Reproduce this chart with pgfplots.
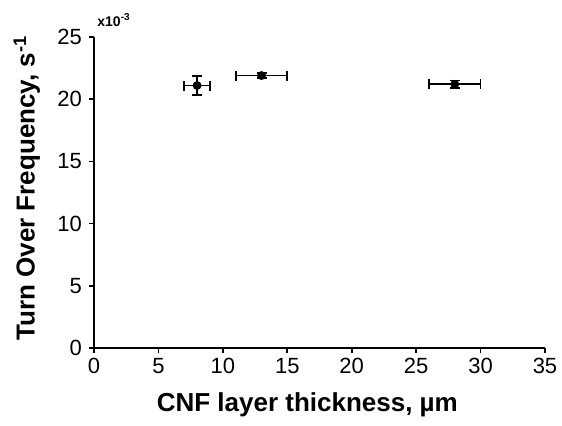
\documentclass[border=0pt]{standalone}
\usepackage{pgfplots}
\pgfplotsset{compat=1.18}
\usepackage{fontspec}
\setmainfont{Liberation Sans}
\begin{document}
\begin{tikzpicture}
\path[use as bounding box] (0,0) rectangle (281pt,213pt);
\begin{axis}[
    at={(47pt,39pt)}, anchor=south west,
    scale only axis,
    width=225.5pt, height=155.5pt,
    xmin=0, xmax=35, ymin=0, ymax=25,
    xtick={0,5,...,35}, ytick={0,5,...,25},
    axis x line=bottom, axis y line=left,
    axis line style={-, line width=0.8pt},
    tick align=outside, tick style={black, line width=0.8pt},
    major tick length=2.5pt,
    /pgf/number format/assume math mode=true,
    tick label style={font=\fontsize{11}{12}\selectfont},
    xticklabel style={yshift=1pt},
    xlabel={\textbf{CNF layer thickness, µm}},
    ylabel={\textbf{Turn Over Frequency, s\textsuperscript{-1}}},
    xlabel style={font=\fontsize{13}{14}\selectfont, at={(axis description cs:0.473,-0.183)}, anchor=center},
    ylabel style={font=\fontsize{13}{14}\selectfont, at={(axis description cs:-0.149,0.514)}, anchor=center, rotate=0},
    clip=false,
]
\addplot[only marks, mark=*, mark size=2pt, black,
    error bars/.cd,
    x dir=both, x explicit, y dir=both, y explicit,
    error bar style={line width=0.8pt},
    error mark options={rotate=90, mark size=2.5pt, line width=0.8pt}]
coordinates {
    (8,21.1) +- (1,0.75)
    (13,21.9) +- (2,0.2)
    (28,21.2) +- (2,0.3)
};
\end{axis}
\node[anchor=base west, font=\fontsize{7}{8}\selectfont\bfseries, inner sep=0] at (48.5pt,199.5pt) {x10\textsuperscript{-3}};
\end{tikzpicture}
\end{document}
